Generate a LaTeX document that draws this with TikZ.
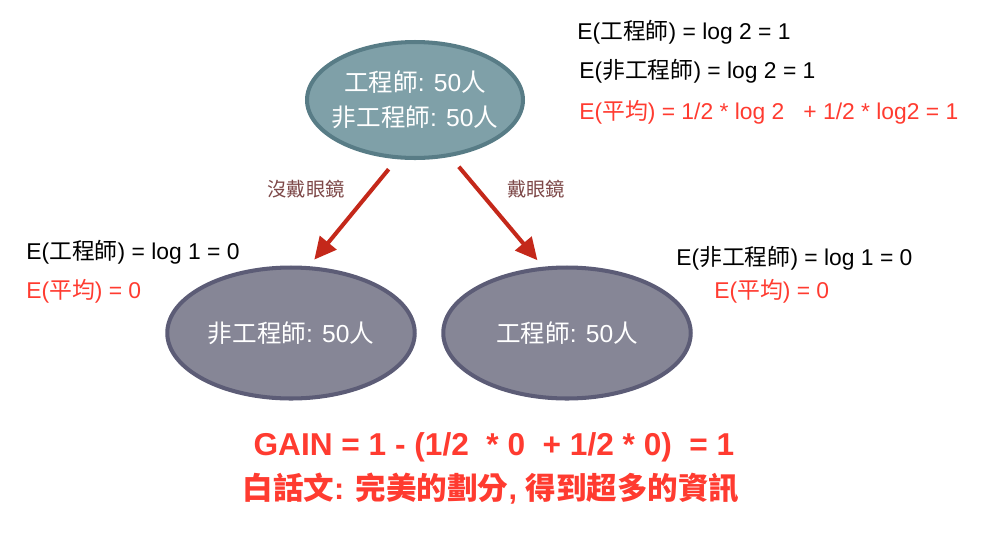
\documentclass[tikz,border=0pt]{standalone}
\usepackage{fontspec}
\setmainfont{Liberation Sans}
\newfontfamily\cjk{Noto Sans CJK TC}
\newcommand\zh[1]{{\cjk #1}}
\usetikzlibrary{arrows.meta,shapes.geometric}

\definecolor{rootfill}{RGB}{127,160,168}
\definecolor{rootline}{RGB}{88,124,134}
\definecolor{leaffill}{RGB}{134,134,150}
\definecolor{leafline}{RGB}{92,92,118}
\definecolor{arrowred}{RGB}{196,40,26}
\definecolor{textred}{RGB}{255,59,48}
\definecolor{labelbrown}{RGB}{125,72,72}

\tikzset{
	rootnode/.style={ellipse, draw=rootline, fill=rootfill, line width=2.3pt,
		minimum width=4.32cm, minimum height=2.32cm, inner xsep=-0.25cm, text=white, align=center,
		font=\fontsize{14}{20}\selectfont},
	leafnode/.style={ellipse, draw=leafline, fill=leaffill, line width=2.3pt,
		minimum width=4.95cm, minimum height=2.62cm, inner xsep=0pt, text=white,
		font=\fontsize{14}{20}\selectfont},
	splitarrow/.style={draw=arrowred, line width=2.3pt,
		-{Triangle[length=0.44cm,width=0.42cm]}, shorten <=0.26cm, shorten >=0.17cm},
	branchlabel/.style={text=labelbrown, font=\fontsize{11}{13}\selectfont},
	eqtext/.style={anchor=west, inner sep=0pt, font=\fontsize{13}{15}\selectfont},
	eqred/.style={eqtext, text=textred},
	gaintext/.style={inner sep=0pt, text=textred, font=\fontsize{18}{22}\selectfont\bfseries}
}

\begin{document}
\begin{tikzpicture}[x=0.02cm, y=-0.02cm]
		%%%%% START %%%%%
		\useasboundingbox (0,0) rectangle (992,542);
		
		\node[rootnode] (root) at (415,100) {\zh{工程師}: 50\zh{人}\\\zh{非工程師}: 50\zh{人}};
		\node[leafnode] (noglass) at (291,333) {\zh{非工程師}: 50\zh{人}};
		\node[leafnode] (glass) at (567,333) {\zh{工程師}: 50\zh{人}};
		
		\draw[splitarrow] (root.253) -- (noglass.75);
		\draw[splitarrow] (root.302) -- (glass.110);
		
		\node[branchlabel] (lblno) at (306,189) {\zh{沒戴眼鏡}};
		\node[branchlabel] (lblyes) at (536,189) {\zh{戴眼鏡}};
		
		% entropy of the root
		\node[eqtext] (eroot1) at (577,32) {E(\zh{工程師}) = log 2 = 1};
		\node[eqtext] (eroot2) at (579,71) {E(\zh{非工程師}) = log 2 = 1};
		\node[eqred] (erootavg) at (579,112) {E(\zh{平均}) = 1/2 * log 2\ \ \ + 1/2 * log2 = 1};
		
		% entropy of the leaves
		\node[eqtext] (eleft) at (26,252) {E(\zh{工程師}) = log 1 = 0};
		\node[eqred] (eleftavg) at (26,291) {E(\zh{平均}) = 0};
		\node[eqtext] (eright) at (676,258) {E(\zh{非工程師}) = log 1 = 0};
		\node[eqred] (erightavg) at (714,291) {E(\zh{平均}) = 0};
		
		\node[gaintext] (gain) at (494,447) {GAIN = 1 - (1/2\ \ * 0\ \ + 1/2 * 0)\ \ = 1};
		\node[gaintext, font=\fontsize{17.4}{22}\selectfont\bfseries] (plain) at (491,489) {\zh{白話文}: \zh{完美的劃分}, \zh{得到超多的資訊}};
		
		%%%%% END %%%%%
\end{tikzpicture}
\end{document}
